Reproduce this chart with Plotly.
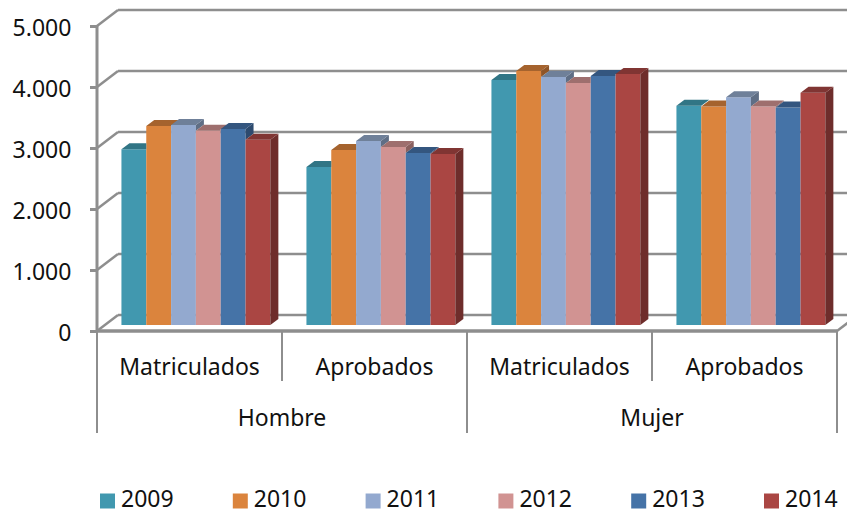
import plotly.graph_objects as go

groups = ["Hombre", "Mujer"]
categories = ["Matriculados", "Aprobados", "Matriculados", "Aprobados"]
years = ["2009", "2010", "2011", "2012", "2013", "2014"]
v2009 = [2880, 2590, 4016, 3595]
v2010 = [3262, 2869, 4164, 3580]
v2011 = [3279, 3016, 4066, 3733]
v2012 = [3185, 2918, 3967, 3580]
v2013 = [3213, 2820, 4082, 3564]
v2014 = [3038, 2803, 4115, 3808]
series = [v2009, v2010, v2011, v2012, v2013, v2014]
front_colors = ["#4198AF", "#DB843D", "#93A9CF", "#D19392", "#4573A7", "#AA4643"]
top_colors = ["#317585", "#A5632E", "#6F8099", "#9E6F6E", "#34567F", "#803533"]
side_colors = ["#2B6575", "#8F5528", "#5F6E85", "#8A605F", "#2D4A6E", "#6E2D2B"]
y_ticks = [0, 1000, 2000, 3000, 4000, 5000]

W, H = 847, 513
PX_CAT = 185.0      # pixels per category
PX_VAL = 0.061      # pixels per value unit
X0, Y0 = 97.0, 331.0
GRID = "#8E8E8E"
FONT = "Noto Sans"
FS = 23
INK = "#111111"

x_range = [-0.5 - X0 / PX_CAT, -0.5 + (W - X0) / PX_CAT]
y_range = [(Y0 - H) / PX_VAL, Y0 / PX_VAL]
wall_dx, wall_dy = 21 / PX_CAT, 16 / PX_VAL
front_dx, bar_base = 6.4 / PX_CAT, 6 / PX_VAL
bar_dx, bar_dy = 8 / PX_CAT, 6 / PX_VAL
bargap = 0.195
bar_w = (1 - bargap) / 6
xl, xr = -0.5, 3.5
xmax = x_range[1]

fig = go.Figure()

for k, vals in enumerate(series):
    xs = [i + front_dx for i in range(4)]
    fig.add_trace(go.Bar(x=xs, y=vals, base=bar_base, name=years[k], showlegend=False,
                         marker=dict(color=front_colors[k], line=dict(width=0))))

# depth faces: tops and sides visible past the neighbouring bar
for k, vals in enumerate(series):
    tx, ty, sx, sy = [], [], [], []
    for i, v in enumerate(vals):
        L = i + front_dx - (1 - bargap) / 2 + k * bar_w
        R = L + bar_w
        h = v + bar_base
        nh = series[k + 1][i] + bar_base if k < 5 else bar_base
        pts = [(L, h), (R, h)]
        if nh >= h + bar_dy:
            pts += [(R, h + bar_dy)]
        elif nh > h:
            pts += [(R, nh), (R + bar_dx * (nh - h) / bar_dy, nh), (R + bar_dx, h + bar_dy)]
        else:
            pts += [(R + bar_dx, h + bar_dy)]
        pts += [(L + bar_dx, h + bar_dy), (L, h)]
        tx += [p[0] for p in pts] + [None]
        ty += [p[1] for p in pts] + [None]
        if h > nh:
            sx += [R, R + bar_dx, R + bar_dx, R, R, None]
            sy += [nh, nh + bar_dy, h + bar_dy, h, nh, None]
    fig.add_trace(go.Scatter(x=sx, y=sy, mode="lines", fill="toself", fillcolor=side_colors[k],
                             line=dict(width=0), showlegend=False, hoverinfo="skip"))
    fig.add_trace(go.Scatter(x=tx, y=ty, mode="lines", fill="toself", fillcolor=top_colors[k],
                             line=dict(width=0), showlegend=False, hoverinfo="skip"))

# legend row, placed in pixels and converted to axis units
legend_y = (Y0 - 501) / PX_VAL
legend_text_y = (Y0 - 501.5) / PX_VAL
for k, yr in enumerate(years):
    lx = (107.5 + 132.8 * k - X0) / PX_CAT - 0.5
    fig.add_trace(go.Scatter(x=[lx], y=[legend_y], mode="markers", name=yr, showlegend=False,
                             marker=dict(symbol="square", size=15, color=front_colors[k])))
    fig.add_trace(go.Scatter(x=[lx + 13.5 / PX_CAT], y=[legend_text_y], mode="text", text=[yr],
                             textposition="middle right", showlegend=False, hoverinfo="skip",
                             cliponaxis=False,
                             textfont=dict(family=FONT, size=FS, color=INK)))

# carrier for the second x axis
fig.add_trace(go.Scatter(x=[None], y=[None], xaxis="x2", mode="markers", showlegend=False, hoverinfo="skip"))

shapes = []
def seg(x0, y0, x1, y1, w=2.5, color=GRID):
    shapes.append(dict(type="line", x0=x0, y0=y0, x1=x1, y1=y1, xref="x", yref="y",
                       layer="below", line=dict(color=color, width=w)))

for v in y_ticks:
    seg(xl, v, xl + wall_dx, v + wall_dy)
    seg(xl + wall_dx, v + wall_dy, xmax, v + wall_dy)
seg(xl, 0, xl, 5000, 3)
seg(xl, 0, xr, 0, 3.5)
seg(xr, 0, xr + wall_dx, wall_dy)
lvl1 = -(381 - Y0) / PX_VAL
lvl2 = -(433 - Y0) / PX_VAL
for b in [-0.5, 1.5, 3.5]:
    seg(b, 0, b, lvl2, 2)
for b in [0.5, 2.5]:
    seg(b, 0, b, lvl1, 2)

fig.update_layout(
    width=W, height=H, margin=dict(l=0, r=0, t=0, b=0), autosize=False,
    paper_bgcolor="white", plot_bgcolor="white",
    barmode="group", bargap=bargap, bargroupgap=0, separators=",.",
    shapes=shapes, showlegend=False,
    font=dict(family=FONT, size=FS, color=INK),
    xaxis=dict(range=x_range, tickmode="array", tickvals=[0, 1, 2, 3], ticktext=categories,
               showgrid=False, zeroline=False, showline=False, ticks="",
               anchor="free", position=(H - Y0) / H, ticklabelstandoff=20,
               tickfont=dict(family=FONT, size=FS, color=INK)),
    xaxis2=dict(range=x_range, overlaying="x", tickmode="array", tickvals=[0.5, 2.5], ticktext=groups,
                showgrid=False, zeroline=False, showline=False, ticks="",
                anchor="free", position=(H - Y0) / H, side="bottom", ticklabelstandoff=71,
                tickfont=dict(family=FONT, size=FS, color=INK)),
    yaxis=dict(range=y_range, tickmode="array", tickvals=y_ticks, tickformat=",d",
               showgrid=False, zeroline=False, showline=False,
               ticks="outside", ticklen=7, tickwidth=2.5, tickcolor=GRID,
               anchor="free", position=X0 / W, side="left", ticklabelstandoff=14,
               ticklabelshift=2,
               tickfont=dict(family=FONT, size=FS, color=INK)),
)
fig.write_html("out.html", post_script="document.body.style.margin='0';",
               config={"displayModeBar": False})
